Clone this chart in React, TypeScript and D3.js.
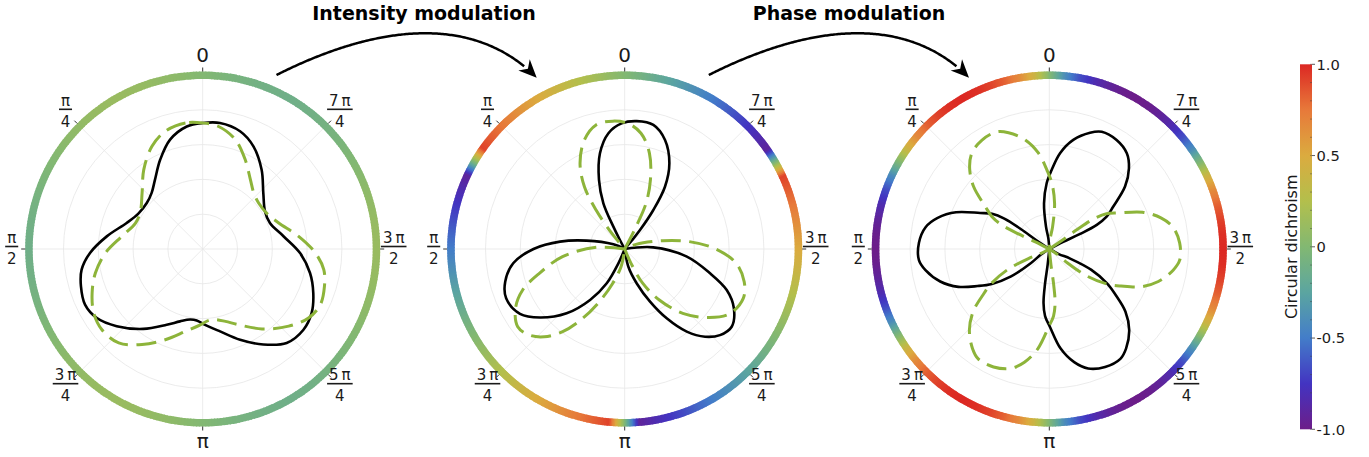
import React, { useEffect, useRef } from 'react';
import * as d3 from 'd3';

const W = 1369;
const H = 457;

// ---------- data ----------
// Angles are in degrees, counter-clockwise from the top (0 at 12 o'clock, π/2 on the left).

// Base pattern: closed three-lobed curves, [theta, r]
const baseSolid: [number, number][] = [
  [0, 3.62], [7.4, 3.55], [16.6, 3.28], [25.5, 2.84], [34.5, 2.42], [42.3, 2.18], [50.6, 2.08],
  [61.2, 2.11], [71.1, 2.31], [82.5, 2.78], [92, 3.24], [99.7, 3.53], [107.1, 3.66], [115.3, 3.74],
  [123.1, 3.63], [131.9, 3.32], [143.4, 2.86], [154.6, 2.41], [162.6, 2.18], [169.8, 2.06],
  [175.2, 2.06], [181.8, 2.18], [191.9, 2.42], [202.4, 2.82], [212.4, 3.25], [221.8, 3.62],
  [231.3, 3.71], [239.6, 3.63], [248.3, 3.42], [257.4, 3.16], [267.6, 2.8], [279, 2.35],
  [291.1, 2.07], [301.1, 2.09], [312.7, 2.37], [323.4, 2.84], [333.7, 3.29], [342.4, 3.55],
  [352.2, 3.655],
];
const baseDashed: [number, number][] = [
  [0, 3.62], [7.8, 3.655], [17.6, 3.55], [26.3, 3.29], [36.6, 2.84], [47.3, 2.37], [58.9, 2.09],
  [68.9, 2.07], [81, 2.35], [92.4, 2.8], [102.6, 3.16], [111.7, 3.42], [120.4, 3.63], [128.7, 3.71],
  [138.2, 3.62], [147.6, 3.25], [157.6, 2.82], [168.1, 2.42], [178.2, 2.18], [184.8, 2.06],
  [190.2, 2.06], [197.4, 2.18], [205.4, 2.41], [216.6, 2.86], [228.1, 3.32], [236.9, 3.63],
  [244.7, 3.74], [252.9, 3.66], [260.3, 3.53], [268, 3.24], [277.5, 2.78], [288.9, 2.31],
  [298.8, 2.11], [309.4, 2.08], [317.7, 2.18], [325.5, 2.42], [334.5, 2.84], [343.4, 3.28],
  [352.6, 3.55],
];
// circular dichroism along the rim, every 10°
const baseRing: number[] = [
  0, 0.06, 0.1, 0.12, 0.1, 0.06, 0, -0.06, -0.1, -0.12, -0.1, -0.06,
  0, 0.06, 0.1, 0.12, 0.1, 0.06, 0, -0.06, -0.1, -0.12, -0.1, -0.06,
  0, 0.06, 0.1, 0.12, 0.1, 0.06, 0, -0.06, -0.1, -0.12, -0.1, -0.06,
];

// Intensity modulation: three petals per curve, each petal runs from the origin and back
const intensitySolid: [number, number][][] = [
  [[-40, 0.3], [-38.9, 0.7], [-36.3, 1.39], [-32.9, 2.13], [-27.5, 2.78], [-20.3, 3.34], [-13, 3.66],
   [-5.4, 3.69], [1.4, 3.61], [8, 3.36], [14.5, 2.84], [20.4, 2.12], [25, 1.45], [26.9, 0.72], [28, 0.3]],
  [[67.6, 0.35], [77.6, 1.12], [83.5, 1.87], [90, 2.62], [97.3, 3.23], [105.3, 3.56], [112.6, 3.69],
   [121.8, 3.54], [129, 3.13], [137.9, 2.49], [145.8, 1.77], [152.3, 1.11], [156.2, 0.45]],
  [[191.7, 0.52], [199.3, 1.05], [205.7, 1.68], [211.2, 2.33], [216.9, 2.97], [222.5, 3.42],
   [227.9, 3.69], [234, 3.8], [241.5, 3.57], [248.1, 3.16], [254.1, 2.55], [263, 1.8], [273.3, 0.82]],
];
const intensityDashed: [number, number][][] = [
  [[-28, 0.3], [-26.9, 0.72], [-25, 1.45], [-20.4, 2.12], [-14.5, 2.84], [-8, 3.36], [-1.4, 3.61],
   [5.4, 3.69], [13, 3.66], [20.3, 3.34], [27.5, 2.78], [32.9, 2.13], [36.3, 1.39], [38.9, 0.7], [40, 0.3]],
  [[203.8, 0.45], [207.7, 1.11], [214.2, 1.77], [222.1, 2.49], [231, 3.13], [238.2, 3.54], [247.4, 3.69],
   [254.7, 3.56], [262.7, 3.23], [270, 2.62], [276.5, 1.87], [282.4, 1.12], [292.4, 0.35]],
  [[86.7, 0.82], [97, 1.8], [105.9, 2.55], [111.9, 3.16], [118.5, 3.57], [126, 3.8], [132.1, 3.69],
   [137.5, 3.42], [143.1, 2.97], [148.8, 2.33], [154.3, 1.68], [160.7, 1.05], [168.3, 0.52]],
];
// every 5°
const intensityRing: number[] = [
  0, 0.08, 0.17, 0.25, 0.33, 0.42, 0.5, 0.58, 0.67, 0.75, 0.83, 0.92,
  0, -0.92, -0.83, -0.75, -0.67, -0.58, -0.5, -0.42, -0.33, -0.25, -0.17, -0.08,
  0, 0.08, 0.17, 0.25, 0.33, 0.42, 0.5, 0.58, 0.67, 0.75, 0.83, 0.92,
  0, -0.92, -0.83, -0.75, -0.67, -0.58, -0.5, -0.42, -0.33, -0.25, -0.17, -0.08,
  0, 0.08, 0.17, 0.25, 0.33, 0.42, 0.5, 0.58, 0.67, 0.75, 0.83, 0.92,
  0, -0.92, -0.83, -0.75, -0.67, -0.58, -0.5, -0.42, -0.33, -0.25, -0.17, -0.08,
];

// Phase modulation
const phaseSolid: [number, number][][] = [
  [[-63, 0.45], [-64, 0.97], [-63.1, 1.53], [-60.6, 1.89], [-56.5, 2.2], [-50.5, 2.82], [-44.6, 3.26],
   [-39, 3.54], [-31.7, 3.68], [-24.1, 3.69], [-19.3, 3.54], [-12.4, 3.21], [-6.4, 2.77], [-1.7, 2.27],
   [2.3, 1.89], [6.6, 1.32], [8.4, 0.65], [5, 0.3]],
  [[56, 0.46], [55, 0.99], [55.9, 1.56], [58.4, 1.93], [62.5, 2.24], [68.5, 2.88], [74.4, 3.33],
   [80, 3.61], [87.3, 3.75], [94.9, 3.76], [99.7, 3.61], [106.6, 3.27], [112.6, 2.83], [117.3, 2.32],
   [121.3, 1.93], [125.6, 1.35], [127.4, 0.66], [124, 0.31]],
  [[174, 0.46], [173, 0.99], [173.9, 1.56], [176.4, 1.93], [180.5, 2.24], [186.5, 2.88], [192.4, 3.33],
   [198, 3.61], [205.3, 3.75], [212.9, 3.76], [217.7, 3.61], [224.6, 3.27], [230.6, 2.83], [235.3, 2.32],
   [239.3, 1.93], [243.6, 1.35], [245.4, 0.66], [242, 0.31]],
];
const phaseDashed: [number, number][][] = [
  [[63, 0.45], [64, 0.97], [63.1, 1.53], [60.6, 1.89], [56.5, 2.2], [50.5, 2.82], [44.6, 3.26],
   [39, 3.54], [31.7, 3.68], [24.1, 3.69], [19.3, 3.54], [12.4, 3.21], [6.4, 2.77], [1.7, 2.27],
   [-2.3, 1.89], [-6.6, 1.32], [-8.4, 0.65], [-5, 0.3]],
  [[304, 0.46], [305, 0.99], [304.1, 1.56], [301.6, 1.93], [297.5, 2.24], [291.5, 2.88], [285.6, 3.33],
   [280, 3.61], [272.7, 3.75], [265.1, 3.76], [260.3, 3.61], [253.4, 3.27], [247.4, 2.83], [242.7, 2.32],
   [238.7, 1.93], [234.4, 1.35], [232.6, 0.66], [236, 0.31]],
  [[186, 0.46], [187, 0.99], [186.1, 1.56], [183.6, 1.93], [179.5, 2.24], [173.5, 2.88], [167.6, 3.33],
   [162, 3.61], [154.7, 3.75], [147.1, 3.76], [142.3, 3.61], [135.4, 3.27], [129.4, 2.83], [124.7, 2.32],
   [120.7, 1.93], [116.4, 1.35], [114.6, 0.66], [118, 0.31]],
];
// every 5°
const phaseRing: number[] = [
  0, 0.4, 0.66, 0.82, 0.92, 0.98, 1, 0.98, 0.92, 0.82, 0.66, 0.4,
  0, -0.4, -0.66, -0.82, -0.92, -0.98, -1, -0.98, -0.92, -0.82, -0.66, -0.4,
  0, 0.4, 0.66, 0.82, 0.92, 0.98, 1, 0.98, 0.92, 0.82, 0.66, 0.4,
  0, -0.4, -0.66, -0.82, -0.92, -0.98, -1, -0.98, -0.92, -0.82, -0.66, -0.4,
  0, 0.4, 0.66, 0.82, 0.92, 0.98, 1, 0.98, 0.92, 0.82, 0.66, 0.4,
  0, -0.4, -0.66, -0.82, -0.92, -0.98, -1, -0.98, -0.92, -0.82, -0.66, -0.4,
];

// angular tick labels
const thetaTickDeg = [0, 45, 90, 135, 180, 225, 270, 315];
const thetaTickNum = ['0', 'π', 'π', '3\u2009π', 'π', '5\u2009π', '3\u2009π', '7\u2009π'];
const thetaTickDen = ['', '4', '2', '4', '', '4', '2', '4'];
const radialGrid = [1, 2, 3, 4];

// colour scale
const cdStops = [-1, -0.75, -0.5, -0.25, 0, 0.25, 0.5, 0.75, 1];
const cdColors = ['#6c1d89', '#4334c1', '#437dc9', '#5ba5a0', '#82b872', '#b3bf4c', '#dbab3f', '#e7793a', '#dc2823'];
const cbTicks = [1, 0.5, 0, -0.5, -1];
const cbTickLabels = ['1.0', '0.5', '0', '-0.5', '-1.0'];

const titles = ['Intensity modulation', 'Phase modulation'];

// ---------- drawing ----------
const FONT = "'DejaVu Sans', 'Liberation Sans', sans-serif";
const DEG = Math.PI / 180;

export default function App() {
  const ref = useRef<SVGSVGElement>(null);

  useEffect(() => {
    document.body.style.margin = '0';
    const svg = d3.select(ref.current as SVGSVGElement);
    svg.selectAll('*').remove();

    const color = d3.scaleLinear<string>().domain(cdStops).range(cdColors).interpolate(d3.interpolateRgb).clamp(true);
    const r = d3.scaleLinear().domain([0, 5]).range([0, 174]);

    const panels = [
      { cx: 202.7, cy: 249, solid: [baseSolid], dashed: [baseDashed], closed: true, ring: baseRing },
      { cx: 624.7, cy: 249, solid: intensitySolid, dashed: intensityDashed, closed: false, ring: intensityRing },
      { cx: 1049.3, cy: 249, solid: phaseSolid, dashed: phaseDashed, closed: false, ring: phaseRing },
    ];

    const closedLine = d3.lineRadial<[number, number]>()
      .angle((d) => -d[0] * DEG)
      .radius((d) => r(d[1]))
      .curve(d3.curveCatmullRomClosed.alpha(0.5));
    const openLine = d3.lineRadial<[number, number]>()
      .angle((d) => -d[0] * DEG)
      .radius((d) => r(d[1]))
      .curve(d3.curveCatmullRom.alpha(0.5));

    const arc = d3.arc<any>();

    panels.forEach((p) => {
      const g = svg.append('g').attr('transform', `translate(${p.cx},${p.cy})`);

      // grid
      g.selectAll('circle.grid').data(radialGrid).enter().append('circle')
        .attr('r', (d) => r(d)).attr('fill', 'none').attr('stroke', '#e6e6e6').attr('stroke-width', 0.8);
      g.selectAll('line.spoke').data(thetaTickDeg).enter().append('line')
        .attr('x1', 0).attr('y1', 0)
        .attr('x2', (d) => -r(5) * Math.sin(d * DEG))
        .attr('y2', (d) => -r(5) * Math.cos(d * DEG))
        .attr('stroke', '#e6e6e6').attr('stroke-width', 0.8);

      // curves
      const paths = (set: [number, number][][]) =>
        p.closed ? set.map((c) => closedLine(c) as string)
                 : set.map((c) => openLine([[0, 0], ...c, [0, 0]]) as string);
      g.selectAll('path.solid').data(paths(p.solid)).enter().append('path')
        .attr('d', (d) => d).attr('fill', 'none').attr('stroke', '#000').attr('stroke-width', 2.6)
        .attr('stroke-linejoin', 'round');
      g.selectAll('path.dashed').data(paths(p.dashed)).enter().append('path')
        .attr('d', (d) => d).attr('fill', 'none').attr('stroke', '#8db43a').attr('stroke-width', 3)
        .attr('stroke-dasharray', '20 8.5');

      // coloured rim
      const n = p.ring.length;
      const step = 360 / n;
      const sub = 10;
      const segs: { a0: number; a1: number; v: number }[] = [];
      for (let i = 0; i < n; i++) {
        const v0 = p.ring[i];
        const v1 = p.ring[(i + 1) % n];
        for (let j = 0; j < sub; j++) {
          const t0 = j / sub;
          const t1 = (j + 1) / sub;
          segs.push({
            a0: i * step + step * t0,
            a1: i * step + step * t1,
            v: v0 + (v1 - v0) * (t0 + t1) / 2,
          });
        }
      }
      g.selectAll('path.rim').data(segs).enter().append('path')
        .attr('d', (s) => arc({ innerRadius: 170, outerRadius: 177.5, startAngle: -(s.a1 + 0.15) * DEG, endAngle: -(s.a0 - 0.15) * DEG }) as string)
        .attr('fill', (s) => color(s.v));

      // ticks
      g.selectAll('line.tick').data(thetaTickDeg).enter().append('line')
        .attr('x1', (d) => -177.5 * Math.sin(d * DEG)).attr('y1', (d) => -177.5 * Math.cos(d * DEG))
        .attr('x2', (d) => -181.5 * Math.sin(d * DEG)).attr('y2', (d) => -181.5 * Math.cos(d * DEG))
        .attr('stroke', '#333').attr('stroke-width', 1);

      // tick labels
      thetaTickDeg.forEach((deg, i) => {
        const R = deg === 90 || deg === 270 ? 191 : 194;
        const x = -R * Math.sin(deg * DEG);
        const y = -R * Math.cos(deg * DEG);
        const num = thetaTickNum[i];
        const den = thetaTickDen[i];
        if (!den) {
          g.append('text').attr('x', x).attr('y', y + (num === '0' ? 7.3 : 5.4))
            .attr('text-anchor', 'middle').attr('font-size', 20).attr('fill', '#1a1a1a')
            .attr('font-family', FONT).text(num);
        } else {
          const bar = y - 2.5;
          const t = g.append('text').attr('x', x).attr('y', bar - 3.2)
            .attr('text-anchor', 'middle').attr('font-size', 15).attr('fill', '#1a1a1a')
            .attr('font-family', FONT).text(num);
          g.append('text').attr('x', x).attr('y', bar + 17.6)
            .attr('text-anchor', 'middle').attr('font-size', 15).attr('fill', '#1a1a1a')
            .attr('font-family', FONT).text(den);
          const len = (t.node() as SVGTextElement).getComputedTextLength();
          g.append('line').attr('x1', x - len / 2 - 2).attr('x2', x + len / 2 + 2)
            .attr('y1', bar).attr('y2', bar).attr('stroke', '#1a1a1a').attr('stroke-width', 1.6);
        }
      });
    });

    // arrows with titles
    const arrowShape = (x0: number) => {
      const P0: [number, number] = [x0, 75];
      const P1: [number, number] = [x0 + 53.5, 48];
      const P2: [number, number] = [x0 + 178.5, -5];
      const P3: [number, number] = [x0 + 260.2, 77.7];
      const bez = (t: number): [number, number] => {
        const u = 1 - t;
        return [
          u * u * u * P0[0] + 3 * u * u * t * P1[0] + 3 * u * t * t * P2[0] + t * t * t * P3[0],
          u * u * u * P0[1] + 3 * u * u * t * P1[1] + 3 * u * t * t * P2[1] + t * t * t * P3[1],
        ];
      };
      const pts = d3.range(0, 0.955, 0.005).map(bez);
      const dx = P3[0] - P2[0];
      const dy = P3[1] - P2[1];
      const a = Math.atan2(dy, dx);
      const ux = Math.cos(a), uy = Math.sin(a);
      const L = 18, Wd = 8, notch = 12.5;
      const head = [
        [P3[0], P3[1]],
        [P3[0] - L * ux - Wd * uy, P3[1] - L * uy + Wd * ux],
        [P3[0] - notch * ux, P3[1] - notch * uy],
        [P3[0] - L * ux + Wd * uy, P3[1] - L * uy - Wd * ux],
      ];
      svg.append('path').attr('d', d3.line()(pts) as string).attr('fill', 'none')
        .attr('stroke', '#000').attr('stroke-width', 2.5);
      svg.append('path').attr('d', 'M' + head.map((q) => q.join(',')).join('L') + 'Z').attr('fill', '#000');
    };
    arrowShape(276.5);
    arrowShape(708.8);

    svg.selectAll('text.title').data(titles).enter().append('text')
      .attr('x', (_, i) => (i === 0 ? 424 : 849)).attr('y', 20)
      .attr('text-anchor', 'middle').attr('font-size', 19).attr('font-weight', 'bold')
      .attr('font-family', FONT).attr('fill', '#000').text((d) => d);

    // colour bar
    const cbX = 1300, cbW = 12, cbTop = 64.3, cbBot = 429.3;
    const cbY = d3.scaleLinear().domain([1, -1]).range([cbTop, cbBot]);
    const defs = svg.append('defs');
    const grad = defs.append('linearGradient').attr('id', 'cdgrad')
      .attr('x1', 0).attr('y1', 0).attr('x2', 0).attr('y2', 1);
    d3.range(0, 41).forEach((k) => {
      const v = 1 - k * 0.05;
      grad.append('stop').attr('offset', `${(k / 40) * 100}%`).attr('stop-color', color(v));
    });
    svg.append('rect').attr('x', cbX).attr('y', cbTop).attr('width', cbW).attr('height', cbBot - cbTop)
      .attr('fill', 'url(#cdgrad)');
    svg.selectAll('line.minor').data(d3.range(-10, 11).map((k) => k / 10)).enter().append('line')
      .attr('x1', cbX + cbW - 2).attr('x2', cbX + cbW)
      .attr('y1', (d) => cbY(d)).attr('y2', (d) => cbY(d))
      .attr('stroke', '#444').attr('stroke-opacity', 0.6).attr('stroke-width', 0.8);
    svg.selectAll('line.major').data(cbTicks).enter().append('line')
      .attr('x1', cbX + cbW).attr('x2', cbX + cbW + 3)
      .attr('y1', (d) => cbY(d)).attr('y2', (d) => cbY(d))
      .attr('stroke', '#333').attr('stroke-width', 0.8);
    svg.selectAll('text.cb').data(cbTicks).enter().append('text')
      .attr('x', cbX + cbW + 4.5).attr('y', (d) => cbY(d)).attr('dy', '0.36em')
      .attr('font-size', 14.7).attr('font-family', FONT).attr('fill', '#1a1a1a')
      .text((_, i) => cbTickLabels[i]);
    svg.append('text').attr('transform', `translate(1296.5,${(cbTop + cbBot) / 2}) rotate(-90)`)
      .attr('text-anchor', 'middle').attr('font-size', 16).attr('font-family', FONT).attr('fill', '#1a1a1a')
      .text('Circular dichroism');
  }, []);

  return (
    <svg
      ref={ref}
      width={W}
      height={H}
      style={{ position: 'fixed', left: 0, top: 0, display: 'block', background: '#fff' }}
    />
  );
}
